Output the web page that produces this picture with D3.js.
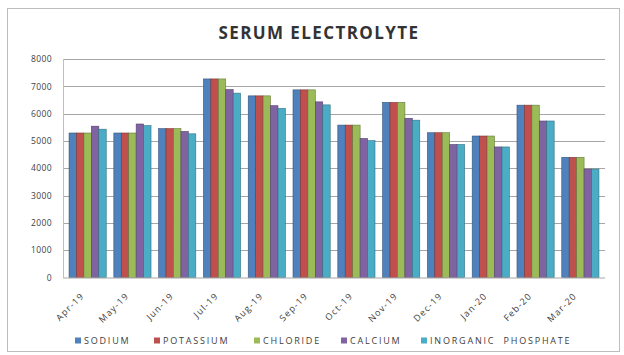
<!DOCTYPE html>
<html><head><meta charset="utf-8">
<script src="https://cdn.jsdelivr.net/npm/d3@7"></script>
<style>body{margin:0;background:#fff}svg{display:block}</style>
</head><body>
<script>
const months = ["Apr-19","May-19","Jun-19","Jul-19","Aug-19","Sep-19","Oct-19","Nov-19","Dec-19","Jan-20","Feb-20","Mar-20"];
const seriesNames = ["SODIUM","POTASSIUM","CHLORIDE","CALCIUM","INORGANIC  PHOSPHATE"];
const sodium     = [5290,5290,5450,7270,6650,6870,5580,6410,5300,5180,6310,4400];
const potassium  = [5290,5290,5450,7270,6650,6870,5580,6410,5300,5180,6310,4400];
const chloride   = [5290,5290,5450,7270,6650,6870,5580,6410,5300,5180,6310,4400];
const calcium    = [5540,5620,5350,6880,6290,6430,5090,5830,4870,4780,5730,3970];
const phosphate  = [5430,5560,5260,6750,6190,6320,5010,5760,4870,4780,5730,3970];
const yTicks = [0,1000,2000,3000,4000,5000,6000,7000,8000];
const colors = ["#4F81BD","#C0504D","#9BBB59","#8064A2","#4BACC6"];
const allSeries = [sodium,potassium,chloride,calcium,phosphate];

const W=624,H=355;
const FONT="'Open Sans', Lato, sans-serif";
const svg=d3.select("body").append("svg").attr("width",W).attr("height",H);
svg.append("rect").attr("x",7.5).attr("y",8.5).attr("width",612).attr("height",343)
  .attr("fill","#fff").attr("stroke","#bdbdbd").attr("stroke-width",1);

const L=63,R=605,T=59,B=277.5;
const x0=d3.scaleBand().domain(months).range([L,R]).paddingInner(0.17).paddingOuter(0.135);
const x1=d3.scaleBand().domain(d3.range(5)).range([0,x0.bandwidth()]);
const y=d3.scaleLinear().domain([0,8000]).range([B,T]);

// gridlines
svg.append("g").selectAll("line").data(yTicks.filter(d=>d>0)).join("line")
  .attr("x1",L).attr("x2",R).attr("y1",d=>Math.round(y(d))+0.5).attr("y2",d=>Math.round(y(d))+0.5)
  .attr("stroke","#a6a6a6").attr("stroke-width",1);
svg.append("line").attr("x1",L+0.5).attr("x2",L+0.5).attr("y1",T).attr("y2",B).attr("stroke","#bfbfbf");

// y axis
const yAxis=d3.axisLeft(y).tickValues(yTicks).tickFormat(d3.format("d")).tickSize(0).tickPadding(11);
const gy=svg.append("g").attr("transform",`translate(${L},0)`).call(yAxis);
gy.select(".domain").remove();
gy.selectAll("text").attr("font-family",FONT).attr("font-size",8.5).attr("fill","#404040").attr("letter-spacing",0.4);

// bars
const groups=svg.append("g").selectAll("g").data(months).join("g")
  .attr("transform",d=>`translate(${x0(d)},0)`);
groups.selectAll("rect").data((m,i)=>allSeries.map((s,k)=>({k,v:s[i]}))).join("rect")
  .attr("x",d=>x1(d.k)).attr("width",x1.bandwidth())
  .attr("y",d=>y(d.v)).attr("height",d=>B-y(d.v))
  .attr("fill",d=>colors[d.k])
  .attr("stroke",d=>d3.color(colors[d.k]).darker(1.2)).attr("stroke-width",0.6);

// baseline
svg.append("line").attr("x1",L).attr("x2",R).attr("y1",B+0.5).attr("y2",B+0.5).attr("stroke","#a6a6a6");

// x axis labels
const xAxis=d3.axisBottom(x0).tickSize(0).tickPadding(0);
const gx=svg.append("g").attr("transform",`translate(0,${B})`).call(xAxis);
gx.select(".domain").remove();
gx.selectAll("text").attr("font-family",FONT).attr("font-size",9).attr("letter-spacing",1.2).attr("fill","#404040")
  .attr("text-anchor","end").attr("dy",0).attr("transform","translate(-3,19) rotate(-45)");

// title
svg.append("text").attr("x",319).attr("y",39).attr("text-anchor","middle")
  .attr("font-family",FONT).attr("font-weight","bold").attr("font-size",17).attr("letter-spacing",1.4)
  .attr("fill","#333").text("SERUM ELECTROLYTE");

// legend
const legX=[75,154,254,341,421];
const leg=svg.append("g").selectAll("g").data(seriesNames).join("g")
  .attr("transform",(d,i)=>`translate(${legX[i]},341)`);
leg.append("rect").attr("x",0).attr("y",-3.5).attr("width",6).attr("height",6).attr("fill",(d,i)=>colors[i]);
leg.append("text").attr("x",9).attr("y",3).text(d=>d)
  .attr("font-family",FONT).attr("font-size",9).attr("letter-spacing",1.8).attr("fill","#404040").style("white-space","pre");
</script>
</body></html>
